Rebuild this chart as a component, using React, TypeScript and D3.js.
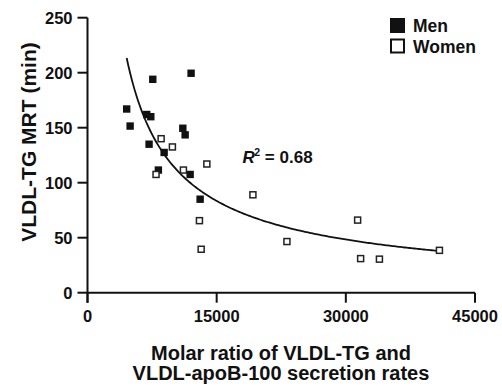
import React from "react";
import * as d3 from "d3";

const menX = [4550, 4950, 7580, 12030, 6880, 7350, 11070, 11340, 7150, 8900, 8230, 11920, 13080];
const menY = [167, 151.5, 194, 199.5, 162, 160, 149.5, 143.5, 135, 127.5, 111.5, 107.5, 85];
const womenX = [8550, 9860, 7960, 11140, 13860, 13000, 13200, 19210, 23160, 31370, 31720, 33900, 40870];
const womenY = [140, 132.5, 107.5, 111.5, 117, 65.5, 39.5, 89, 46.5, 66, 31, 30.5, 38.5];
const xTicks = [0, 15000, 30000, 45000];
const yTicks = [0, 50, 100, 150, 200, 250];
const fitA = 161380;
const fitB = -0.787;
const fitRange = [4550, 40870];
const legendLabels = ["Men", "Women"];
const r2Label = "0.68";

const W = 502;
const H = 387;
const FONT = "'Liberation Sans', Arial, Helvetica, sans-serif";

export default function App() {
  const x = d3.scaleLinear().domain([0, 45000]).range([87.5, 475]);
  const y = d3.scaleLinear().domain([0, 250]).range([292.7, 17.7]);

  const curvePts: [number, number][] = d3
    .range(0, 201)
    .map((i) => fitRange[0] + ((fitRange[1] - fitRange[0]) * i) / 200)
    .map((v) => [v, fitA * Math.pow(v, fitB)]);
  const line = d3
    .line<[number, number]>()
    .x((d) => x(d[0]))
    .y((d) => y(d[1]))
    .curve(d3.curveLinear);

  const fs = 7.4;
  const os = 6;

  return (
    <div style={{ position: "absolute", left: 0, top: 0 }}>
      <svg width={W} height={H} style={{ display: "block", background: "#fff" }}>
        <rect x={0} y={0} width={W} height={H} fill="#fff" />
        {/* y axis */}
        <line x1={x(0)} x2={x(0)} y1={y(250)} y2={y(0) + 10} stroke="#111" strokeWidth={2} />
        {yTicks.map((t) => (
          <g key={"yt" + t}>
            <line x1={x(0) - 10} x2={x(0)} y1={y(t)} y2={y(t)} stroke="#111" strokeWidth={2} />
            <text
              x={x(0) - 15}
              y={y(t)}
              dy="0.36em"
              textAnchor="end"
              fontFamily={FONT}
              fontWeight="bold"
              fontSize={16.5}
              fill="#111"
            >
              {t}
            </text>
          </g>
        ))}
        {/* x axis */}
        <line x1={x(0)} x2={x(45000)} y1={y(0)} y2={y(0)} stroke="#111" strokeWidth={2} />
        {xTicks.map((t) => (
          <g key={"xt" + t}>
            <line x1={x(t)} x2={x(t)} y1={y(0)} y2={y(0) + 10} stroke="#111" strokeWidth={2} />
            <text
              x={x(t)}
              y={322}
              textAnchor="middle"
              fontFamily={FONT}
              fontWeight="bold"
              fontSize={16.5}
              fill="#111"
            >
              {t}
            </text>
          </g>
        ))}
        {/* fit curve */}
        <path d={line(curvePts) || ""} fill="none" stroke="#111" strokeWidth={1.8} />
        {/* men */}
        {menX.map((v, i) => (
          <rect
            key={"m" + i}
            x={x(v) - fs / 2}
            y={y(menY[i]) - fs / 2}
            width={fs}
            height={fs}
            fill="#111"
          />
        ))}
        {/* women */}
        {womenX.map((v, i) => (
          <rect
            key={"w" + i}
            x={x(v) - os / 2}
            y={y(womenY[i]) - os / 2}
            width={os}
            height={os}
            fill="#fff"
            stroke="#222"
            strokeWidth={1.5}
          />
        ))}
        {/* R2 label */}
        <text x={242.5} y={162.5} fontFamily={FONT} fontWeight="bold" fontSize={17} fill="#111">
          <tspan fontStyle="italic">R</tspan>
          <tspan fontSize={10.5} dx={-0.5} dy={-7}>2</tspan>
          <tspan dy={7}>{" = " + r2Label}</tspan>
        </text>
        {/* legend */}
        <rect x={390} y={18} width={15} height={15} fill="#111" />
        <rect x={391} y={39.5} width={13} height={13} fill="#fff" stroke="#111" strokeWidth={2} />
        <text x={413} y={31.5} fontFamily={FONT} fontWeight="bold" fontSize={17.5} fill="#111">
          {legendLabels[0]}
        </text>
        <text x={413} y={52.5} fontFamily={FONT} fontWeight="bold" fontSize={17.5} fill="#111">
          {legendLabels[1]}
        </text>
        {/* axis titles */}
        <text
          transform="translate(36,142) rotate(-90)"
          textAnchor="middle"
          fontFamily={FONT}
          fontWeight="bold"
          fontSize={21}
          fill="#111"
        >
          VLDL-TG MRT (min)
        </text>
        <text x={281} y={360} textAnchor="middle" fontFamily={FONT} fontWeight="bold" fontSize={20} fill="#111">
          Molar ratio of VLDL-TG and
        </text>
        <text x={281} y={380} textAnchor="middle" fontFamily={FONT} fontWeight="bold" fontSize={20} fill="#111">
          VLDL-apoB-100 secretion rates
        </text>
      </svg>
    </div>
  );
}
